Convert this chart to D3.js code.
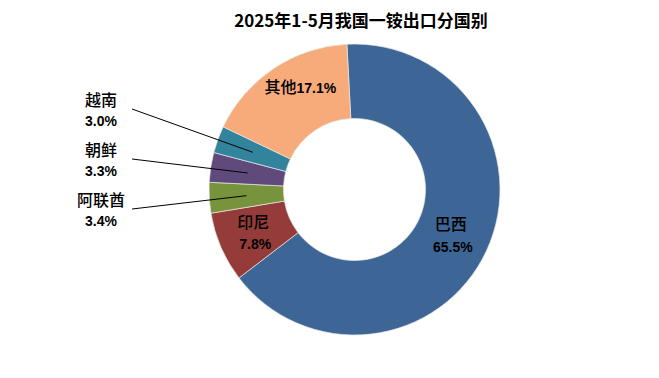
<!DOCTYPE html>
<html>
<head>
<meta charset="utf-8">
<script src="https://cdn.jsdelivr.net/npm/d3@7"></script>
<style>
  body { margin: 0; background: #fff; }
  svg text { font-family: "Noto Sans CJK SC", "Liberation Sans", sans-serif; fill: #000; }
</style>
</head>
<body>
<svg id="chart" width="659" height="378"></svg>
<script>
// data
var countries = ["巴西", "印尼", "阿联酋", "朝鲜", "越南", "其他"];
var shares = [65.5, 7.8, 3.4, 3.3, 3.0, 17.1];
var colors = ["#3d6595", "#953b3a", "#77933c", "#5f4a7b", "#31849b", "#f7aa7a"];
var outside = ["阿联酋", "朝鲜", "越南"];   // labels pulled out to the left, bottom first

var title = "2025年1-5月我国一铵出口分国别";

var W = 659, H = 378;
var cx = 354.5, cy = 189.5, rOut = 145.5, rIn = 71;
var start = -3 * Math.PI / 180;

var svg = d3.select("#chart");

svg.append("text")
  .attr("x", 361).attr("y", 27)
  .attr("text-anchor", "middle")
  .style("font-size", "17px").style("font-weight", "bold")
  .text(title);

var rows = countries.map(function(c, i) { return {name: c, value: shares[i], color: colors[i]}; });

var pie = d3.pie().sort(null).value(function(d) { return d.value; })
  .startAngle(start).endAngle(start + 2 * Math.PI);
var arc = d3.arc().innerRadius(rIn).outerRadius(rOut);

var g = svg.append("g").attr("transform", "translate(" + cx + "," + cy + ")");
var arcs = pie(rows);

g.selectAll("path.slice")
  .data(arcs)
  .enter().append("path")
  .attr("class", "slice")
  .attr("d", arc)
  .attr("fill", function(d) { return d.data.color; })
  .attr("stroke", "#e8e8e8")
  .attr("stroke-width", 0.7);

function pct(v) { return v.toFixed(1) + "%"; }

// labels inside the ring
arcs.forEach(function(d) {
  var c = arc.centroid(d);
  var name = d.data.name;
  if (outside.indexOf(name) >= 0) return;
  if (name === "其他") {
    var t = g.append("text")
      .attr("x", c[0] + 6).attr("y", c[1] - 12)
      .attr("text-anchor", "middle").attr("dy", "0.35em");
    t.append("tspan").style("font-size", "16px").style("font-weight", "500").text(name);
    t.append("tspan").style("font-size", "14px").style("font-weight", "bold")
      .style("font-family", "Liberation Sans, Arial, sans-serif").text(pct(d.data.value));
    return;
  }
  g.append("text")
    .attr("x", c[0] - 2).attr("y", c[1] - 10)
    .attr("text-anchor", "middle").attr("dy", "0.35em")
    .style("font-size", "16px").style("font-weight", "500")
    .text(name);
  g.append("text")
    .attr("x", c[0]).attr("y", c[1] + 12)
    .attr("text-anchor", "middle").attr("dy", "0.35em")
    .style("font-size", "14px").style("font-weight", "bold")
    .style("font-family", "Liberation Sans, Arial, sans-serif")
    .text(pct(d.data.value));
});

// labels outside with leader lines
var labX = 100, labY0 = 200, labStep = 50;
outside.forEach(function(name, k) {
  var d = arcs.filter(function(a) { return a.data.name === name; })[0];
  var c = arc.centroid(d);
  var ty = labY0 - k * labStep;
  svg.append("line")
    .attr("x1", labX + 32).attr("y1", ty + 9)
    .attr("x2", cx + c[0]).attr("y2", cy + c[1])
    .attr("stroke", "#000").attr("stroke-width", 1);
  svg.append("text")
    .attr("x", labX + 1).attr("y", ty)
    .attr("text-anchor", "middle").attr("dy", "0.35em")
    .style("font-size", "16px").style("font-weight", "500")
    .text(name);
  svg.append("text")
    .attr("x", labX + 1).attr("y", ty + 21)
    .attr("text-anchor", "middle").attr("dy", "0.35em")
    .style("font-size", "14px").style("font-weight", "bold")
    .style("font-family", "Liberation Sans, Arial, sans-serif")
    .text(pct(d.data.value));
});
</script>
</body>
</html>
